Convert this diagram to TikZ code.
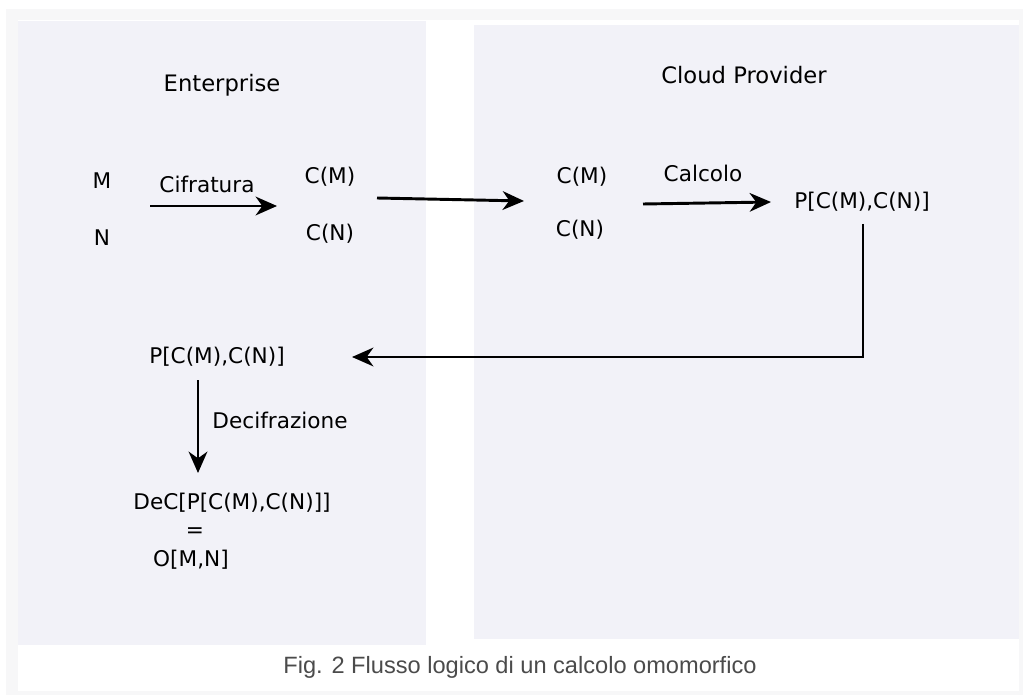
\documentclass[tikz,border=0pt]{standalone}
\usepackage{fontspec}
\setmainfont{DejaVu Sans}
\newfontfamily\capfont{Liberation Sans}
\usetikzlibrary{arrows.meta}
\definecolor{panel}{RGB}{242,242,248}
\definecolor{frame}{RGB}{247,247,248}
\definecolor{capgray}{RGB}{75,75,75}

\begin{document}
\begin{tikzpicture}[x=0.75pt,y=-0.75pt]
      \tikzstyle{dedge} = [-{Stealth[length=16pt,width=14pt,inset=5pt]},line width=2.2pt,draw=black]
      \tikzstyle{lbl}=[
        inner sep=0pt,
        anchor=center,
        font=\fontsize{16.2}{19}\selectfont,
      ]
      \tikzstyle{title}=[lbl, font=\fontsize{17}{20}\selectfont]

      % background and panels
      \useasboundingbox (0,0) rectangle (1023,695);
      \fill[white] (0,0) rectangle (1023,695);
      \fill[frame] (6,9) rectangle (1023,695);
      \fill[white] (18,20) rectangle (1019,691);
      \fill[panel] (18,21) rectangle (426,645);
      \fill[panel] (474,25) rectangle (1019,639);

      \node[title] (ent) at (222,85) {Enterprise};
      \node[title] (cloud) at (744,75) {Cloud Provider};

      \node[lbl] (m) at (102,181) {M};
      \node[lbl] (n) at (102,238) {N};
      \node[lbl] (cif) at (207,184) {Cifratura};
      \node[lbl] (cm1) at (330,177) {C(M)};
      \node[lbl] (cn1) at (330,234) {C(N)};
      \node[lbl] (cm2) at (582,177) {C(M)};
      \node[lbl] (cn2) at (580,230) {C(N)};
      \node[lbl] (calc) at (703,173) {Calcolo};
      \node[lbl] (pr) at (862,202) {P[C(M),C(N)]};
      \node[lbl] (pl) at (217,357) {P[C(M),C(N)]};
      \node[lbl] (decif) at (280,420) {Decifrazione};
      \node[lbl] (dec) at (232,503) {DeC[P[C(M),C(N)]]};
      \node[lbl] (eq) at (195,533) {=};
      \node[lbl] (res) at (191,560) {O[M,N]};

      \node[inner sep=0pt, text=capgray, font=\capfont\fontsize{17.7}{21}\selectfont] (cap) at (520,667) {Fig. 2 Flusso logico di un calcolo omomorfico};

      % arrow end points
      \coordinate (c1a) at (150,206);
      \coordinate (c1b) at (277,206);
      \coordinate (c2a) at (377,198);
      \coordinate (c2b) at (524,201);
      \coordinate (c3a) at (643,204);
      \coordinate (c3b) at (771,202);
      \coordinate (r1) at (863,224);
      \coordinate (r2) at (863,357);
      \coordinate (r3) at (352,357);
      \coordinate (d1) at (198,380);
      \coordinate (d2) at (198,473);

      \draw[dedge] (c1a)--(c1b);
      \draw[dedge] (c2a)--(c2b);
      \draw[dedge] (c3a)--(c3b);
      \draw[dedge] (r1)--(r2)--(r3);
      \draw[dedge] (d1)--(d2);
\end{tikzpicture}
\end{document}
